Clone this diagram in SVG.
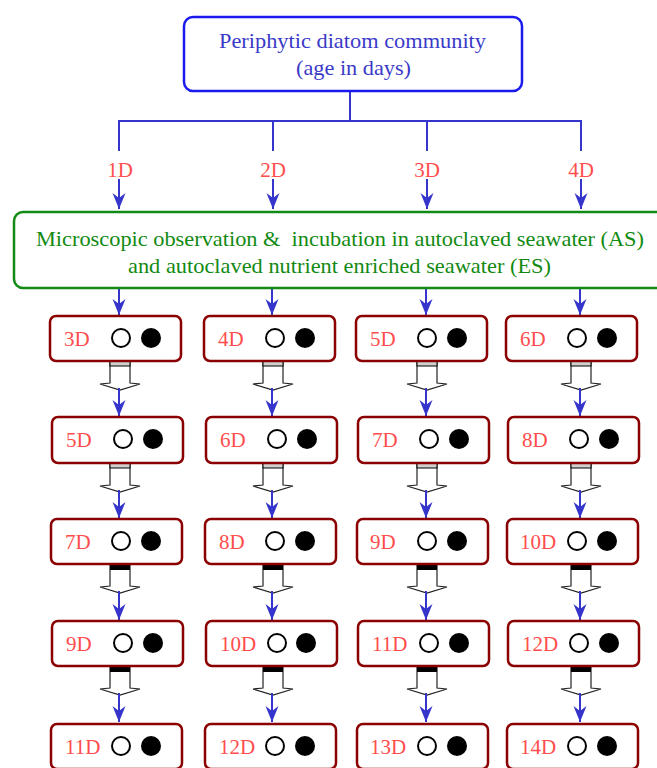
<svg xmlns="http://www.w3.org/2000/svg" width="657" height="768" viewBox="0 0 657 768">
<defs>
<marker id="ah" markerUnits="userSpaceOnUse" markerWidth="20" markerHeight="16" viewBox="-17 -8 18 16" refX="0" refY="0" orient="auto">
<path d="M0,0 L-16,-6.5 L-11,0 L-16,6.5 Z" fill="#3535cc"/>
</marker>
</defs>
<style>
.tb{fill:#fff;stroke:#1a1aee;stroke-width:2.5}
.tt{font-family:"Liberation Serif","Times New Roman",serif;font-size:21px;fill:#3a3ac8}
.gb{fill:#fff;stroke:#138a13;stroke-width:2.5}
.gt{font-family:"Liberation Serif","Times New Roman",serif;font-size:22px;fill:#128a12}
.lb{font-family:"Liberation Serif","Times New Roman",serif;font-size:21px;fill:#ff4d4d}
.rb{fill:#fff;stroke:#8b0000;stroke-width:2.5}
.oc{fill:#fff;stroke:#000;stroke-width:2}
.fc{fill:#000}
.bl{fill:none;stroke:#3535cc;stroke-width:2}
.ba{fill:none;stroke:#3535cc;stroke-width:2;marker-end:url(#ah)}
.blk{fill:#fff;stroke:#222;stroke-width:1.2}
.capg{fill:#d0d0d0;stroke:#000;stroke-width:1}
.capb{fill:#000}
</style>
<g id="connectors">
<path class="bl" d="M350,91 V121 M118,121 H582 M119,121 V151 M273,121 V151 M427,121 V151 M581,121 V151"/>
<path class="ba" d="M119,179 V209"/>
<path class="ba" d="M273,179 V209"/>
<path class="ba" d="M427,179 V209"/>
<path class="ba" d="M581,179 V209"/>
<path class="ba" d="M119,289 V315"/>
<path class="ba" d="M272,289 V315"/>
<path class="ba" d="M426,289 V315"/>
<path class="ba" d="M580,289 V315"/>
<g id="blocks">
<polygon class="blk" points="110,361 110,383 100,384 120,390 140,384 130,383 130,361"/>
<rect class="capg" x="110" y="361" width="20" height="5"/>
<polygon class="blk" points="263,361 263,383 253,384 273,390 293,384 283,383 283,361"/>
<rect class="capg" x="263" y="361" width="20" height="5"/>
<polygon class="blk" points="417,361 417,383 407,384 427,390 447,384 437,383 437,361"/>
<rect class="capg" x="417" y="361" width="20" height="5"/>
<polygon class="blk" points="571,361 571,383 561,384 581,390 601,384 591,383 591,361"/>
<rect class="capg" x="571" y="361" width="20" height="5"/>

<polygon class="blk" points="110,463 110,485 100,486 120,492 140,486 130,485 130,463"/>
<rect class="capg" x="110" y="463" width="20" height="5"/>
<polygon class="blk" points="263,463 263,485 253,486 273,492 293,486 283,485 283,463"/>
<rect class="capg" x="263" y="463" width="20" height="5"/>
<polygon class="blk" points="417,463 417,485 407,486 427,492 447,486 437,485 437,463"/>
<rect class="capg" x="417" y="463" width="20" height="5"/>
<polygon class="blk" points="571,463 571,485 561,486 581,492 601,486 591,485 591,463"/>
<rect class="capg" x="571" y="463" width="20" height="5"/>

<polygon class="blk" points="110,564 110,586 100,587 120,593 140,587 130,586 130,564"/>
<rect class="capb" x="110" y="564" width="20" height="6"/>
<polygon class="blk" points="263,564 263,586 253,587 273,593 293,587 283,586 283,564"/>
<rect class="capb" x="263" y="564" width="20" height="6"/>
<polygon class="blk" points="417,564 417,586 407,587 427,593 447,587 437,586 437,564"/>
<rect class="capb" x="417" y="564" width="20" height="6"/>
<polygon class="blk" points="571,564 571,586 561,587 581,593 601,587 591,586 591,564"/>
<rect class="capb" x="571" y="564" width="20" height="6"/>

<polygon class="blk" points="110,666 110,688 100,689 120,695 140,689 130,688 130,666"/>
<rect class="capb" x="110" y="666" width="20" height="6"/>
<polygon class="blk" points="263,666 263,688 253,689 273,695 293,689 283,688 283,666"/>
<rect class="capb" x="263" y="666" width="20" height="6"/>
<polygon class="blk" points="417,666 417,688 407,689 427,695 447,689 437,688 437,666"/>
<rect class="capb" x="417" y="666" width="20" height="6"/>
<polygon class="blk" points="571,666 571,688 561,689 581,695 601,689 591,688 591,666"/>
<rect class="capb" x="571" y="666" width="20" height="6"/>
</g>
<path class="ba" d="M119,388 V416"/>
<path class="ba" d="M272,388 V416"/>
<path class="ba" d="M426,388 V416"/>
<path class="ba" d="M580,388 V416"/>
<path class="ba" d="M119,490 V518"/>
<path class="ba" d="M272,490 V518"/>
<path class="ba" d="M426,490 V518"/>
<path class="ba" d="M580,490 V518"/>
<path class="ba" d="M119,591 V620"/>
<path class="ba" d="M272,591 V620"/>
<path class="ba" d="M426,591 V620"/>
<path class="ba" d="M580,591 V620"/>
<path class="ba" d="M119,693 V722"/>
<path class="ba" d="M272,693 V722"/>
<path class="ba" d="M426,693 V722"/>
<path class="ba" d="M580,693 V722"/>
</g>
<g id="top">
<rect class="tb" x="184" y="17" width="338" height="74" rx="9"/>
<text class="tt" x="219" y="48" textLength="267" lengthAdjust="spacingAndGlyphs">Periphytic diatom community</text>
<text class="tt" x="296" y="75" textLength="115" lengthAdjust="spacingAndGlyphs">(age in days)</text>
</g>
<g id="labels">
<text class="lb" x="120" y="177" text-anchor="middle">1D</text>
<text class="lb" x="273" y="177" text-anchor="middle">2D</text>
<text class="lb" x="427" y="177" text-anchor="middle">3D</text>
<text class="lb" x="581" y="177" text-anchor="middle">4D</text>
</g>
<g id="incubation">
<rect class="gb" x="14" y="212" width="680" height="76" rx="9"/>
<text class="gt" x="36" y="246" textLength="608" lengthAdjust="spacingAndGlyphs" xml:space="preserve">Microscopic observation &amp;  incubation in autoclaved seawater (AS)</text>
<text class="gt" x="128" y="273" textLength="423" lengthAdjust="spacingAndGlyphs">and autoclaved nutrient enriched seawater (ES)</text>
</g>
<g id="r1c1"><rect class="rb" x="50" y="316" width="131" height="45" rx="6"/><text class="lb" x="64" y="346">3D</text><circle class="oc" cx="121" cy="338" r="9"/><circle class="fc" cx="151" cy="338" r="10"/></g>
<g id="r1c2"><rect class="rb" x="204" y="316" width="131" height="45" rx="6"/><text class="lb" x="218" y="346">4D</text><circle class="oc" cx="275" cy="338" r="9"/><circle class="fc" cx="305" cy="338" r="10"/></g>
<g id="r1c3"><rect class="rb" x="356" y="316" width="131" height="45" rx="6"/><text class="lb" x="370" y="346">5D</text><circle class="oc" cx="427" cy="338" r="9"/><circle class="fc" cx="457" cy="338" r="10"/></g>
<g id="r1c4"><rect class="rb" x="506" y="316" width="131" height="45" rx="6"/><text class="lb" x="520" y="346">6D</text><circle class="oc" cx="577" cy="338" r="9"/><circle class="fc" cx="607" cy="338" r="10"/></g>

<g id="r2c1"><rect class="rb" x="52" y="417" width="131" height="46" rx="6"/><text class="lb" x="66" y="447">5D</text><circle class="oc" cx="123" cy="439" r="9"/><circle class="fc" cx="153" cy="439" r="10"/></g>
<g id="r2c2"><rect class="rb" x="206" y="417" width="131" height="46" rx="6"/><text class="lb" x="220" y="447">6D</text><circle class="oc" cx="277" cy="439" r="9"/><circle class="fc" cx="307" cy="439" r="10"/></g>
<g id="r2c3"><rect class="rb" x="358" y="417" width="131" height="46" rx="6"/><text class="lb" x="372" y="447">7D</text><circle class="oc" cx="429" cy="439" r="9"/><circle class="fc" cx="459" cy="439" r="10"/></g>
<g id="r2c4"><rect class="rb" x="508" y="417" width="131" height="46" rx="6"/><text class="lb" x="522" y="447">8D</text><circle class="oc" cx="579" cy="439" r="9"/><circle class="fc" cx="609" cy="439" r="10"/></g>

<g id="r3c1"><rect class="rb" x="51" y="519" width="131" height="45" rx="6"/><text class="lb" x="65" y="549">7D</text><circle class="oc" cx="121" cy="541" r="9"/><circle class="fc" cx="151" cy="541" r="10"/></g>
<g id="r3c2"><rect class="rb" x="205" y="519" width="131" height="45" rx="6"/><text class="lb" x="219" y="549">8D</text><circle class="oc" cx="275" cy="541" r="9"/><circle class="fc" cx="305" cy="541" r="10"/></g>
<g id="r3c3"><rect class="rb" x="357" y="519" width="131" height="45" rx="6"/><text class="lb" x="370" y="549">9D</text><circle class="oc" cx="427" cy="541" r="9"/><circle class="fc" cx="457" cy="541" r="10"/></g>
<g id="r3c4"><rect class="rb" x="507" y="519" width="131" height="45" rx="6"/><text class="lb" x="520" y="549">10D</text><circle class="oc" cx="577" cy="541" r="9"/><circle class="fc" cx="607" cy="541" r="10"/></g>

<g id="r4c1"><rect class="rb" x="52" y="621" width="131" height="45" rx="6"/><text class="lb" x="66" y="651">9D</text><circle class="oc" cx="123" cy="643" r="9"/><circle class="fc" cx="153" cy="643" r="10"/></g>
<g id="r4c2"><rect class="rb" x="206" y="621" width="131" height="45" rx="6"/><text class="lb" x="220" y="651">10D</text><circle class="oc" cx="277" cy="643" r="9"/><circle class="fc" cx="306" cy="643" r="10"/></g>
<g id="r4c3"><rect class="rb" x="358" y="621" width="131" height="45" rx="6"/><text class="lb" x="372" y="651">11D</text><circle class="oc" cx="429" cy="643" r="9"/><circle class="fc" cx="459" cy="643" r="10"/></g>
<g id="r4c4"><rect class="rb" x="508" y="621" width="131" height="45" rx="6"/><text class="lb" x="522" y="651">12D</text><circle class="oc" cx="579" cy="643" r="9"/><circle class="fc" cx="609" cy="643" r="10"/></g>

<g id="r5c1"><rect class="rb" x="51" y="724" width="131" height="45" rx="6"/><text class="lb" x="65" y="754">11D</text><circle class="oc" cx="121" cy="746" r="9"/><circle class="fc" cx="151" cy="746" r="10"/></g>
<g id="r5c2"><rect class="rb" x="205" y="724" width="131" height="45" rx="6"/><text class="lb" x="219" y="754">12D</text><circle class="oc" cx="275" cy="746" r="9"/><circle class="fc" cx="305" cy="746" r="10"/></g>
<g id="r5c3"><rect class="rb" x="357" y="724" width="131" height="45" rx="6"/><text class="lb" x="370" y="754">13D</text><circle class="oc" cx="427" cy="746" r="9"/><circle class="fc" cx="457" cy="746" r="10"/></g>
<g id="r5c4"><rect class="rb" x="507" y="724" width="131" height="45" rx="6"/><text class="lb" x="520" y="754">14D</text><circle class="oc" cx="577" cy="746" r="9"/><circle class="fc" cx="607" cy="746" r="10"/></g>
</svg>
